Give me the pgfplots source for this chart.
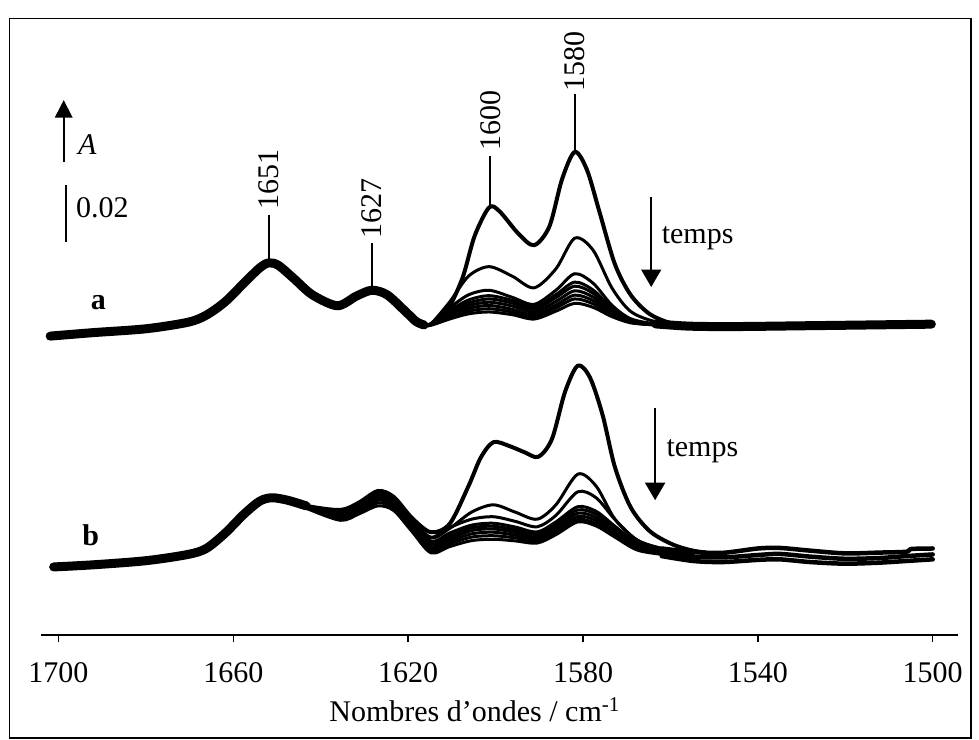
\documentclass[border=0pt]{standalone}
\usepackage{fontspec}
\setmainfont{Liberation Serif}
\usepackage{pgfplots}
\pgfplotsset{compat=1.18}
\usetikzlibrary{arrows.meta}

\newcommand{\fs}{\fontsize{12bp}{14bp}\selectfont}

\begin{document}
\fs
\begin{tikzpicture}
\path[use as bounding box] (-16.4bp,-42.1bp) rectangle (375.2bp,253.9bp);
\draw[line width=0.6bp] (-12.6bp,-41.3bp) rectangle (372bp,246.4bp);
\begin{axis}[
  at={(0,0)}, anchor=south west, scale only axis,
  width=367bp, height=246.4bp,
  xmin=1494.1, xmax=1704, ymin=0, ymax=0.2271,
  x dir=reverse,
  axis x line=bottom, axis y line=none,
  x axis line style={-, line width=0.8bp},
  xtick={1500,1540,1580,1620,1660,1700},
  tick align=outside, major tick length=3bp,
  xtick style={line width=0.6bp, black},
  tick label style={font=\fs},
  xticklabel style={anchor=base, yshift=-16.2bp},
  /pgf/number format/assume math mode=true,
  /pgf/number format/set thousands separator={},
  xlabel={Nombres d’ondes / cm\textsuperscript{-1}},
  xlabel style={font=\fs, at={(axis description cs:0.473,0)}, anchor=center, yshift=-30bp},
  clip=false,
  every axis plot/.append style={black, smooth, line join=round, line cap=round},
]
% ---- a: common left part
\addplot[line width=3.6bp] coordinates {
 (1701.9,0.1101) (1691.9,0.1114) (1680,0.1128) (1670.4,0.1152) (1666.2,0.1178)
 (1661.9,0.1227) (1657.6,0.1296) (1654,0.1352) (1651.9,0.1371) (1649.7,0.1362)
 (1646.2,0.1314) (1641.9,0.1253) (1636.2,0.1213) (1631.9,0.1248) (1628.3,0.1270)
 (1624.8,0.1253) (1620.5,0.1190) (1618.2,0.1155) (1616.4,0.1142)};
% a: first spectrum
\addplot[line width=1.6bp] coordinates {
 (1618.2,0.1155) (1616.4,0.1142) (1614.8,0.1145) (1611.2,0.1192) (1607.6,0.1314)
 (1604.8,0.1470) (1601.5,0.1575) (1599.1,0.1561) (1594.8,0.1479) (1591.2,0.1436)
 (1587.7,0.1505) (1584.8,0.1679) (1581.9,0.1780) (1579.1,0.1714) (1576.2,0.1557)
 (1572.7,0.1366) (1569.1,0.1253) (1564.8,0.1183) (1559.8,0.1148) (1554.8,0.1136)};
\addplot[line width=1.2bp] coordinates {
 (1618.2,0.1155) (1616.4,0.1142) (1614.8,0.1146) (1610.5,0.1227) (1606.2,0.1322)
 (1601.5,0.1357) (1596.2,0.1322) (1591.2,0.1279) (1586.2,0.1349) (1581.9,0.1462)
 (1577.7,0.1418) (1573.4,0.1279) (1569.1,0.1192) (1563.4,0.1154) (1556.2,0.1140)};
\addplot[line width=1.2bp] coordinates {
 (1618.2,0.1155) (1616.4,0.1142) (1614.8,0.1147) (1610.5,0.1205) (1606.2,0.1253)
 (1601.5,0.1270) (1596.2,0.1244) (1591.2,0.1218) (1586.2,0.1270) (1581.9,0.1331)
 (1577.7,0.1296) (1573.4,0.1215) (1569.1,0.1165) (1563.4,0.1146) (1556.2,0.1137)};
\addplot[line width=1.2bp] coordinates {
 (1618.2,0.1155) (1616.4,0.1142) (1614.8,0.1146) (1610.5,0.1195) (1606.2,0.1234)
 (1601.5,0.1250) (1596.2,0.1233) (1591.2,0.1208) (1586.2,0.1254) (1581.9,0.1300)
 (1577.7,0.1271) (1573.4,0.1204) (1569.1,0.1159) (1563.4,0.1145) (1556.2,0.1137)};
\addplot[line width=1.2bp] coordinates {
 (1618.2,0.1155) (1616.4,0.1142) (1614.8,0.1145) (1610.5,0.1189) (1606.2,0.1223)
 (1601.5,0.1238) (1596.2,0.1223) (1591.2,0.1200) (1586.2,0.1243) (1581.9,0.1285)
 (1577.7,0.1259) (1573.4,0.1198) (1569.1,0.1157) (1563.4,0.1144) (1556.2,0.1136)};
\addplot[line width=1.2bp] coordinates {
 (1618.2,0.1155) (1616.4,0.1142) (1614.8,0.1144) (1610.5,0.1183) (1606.2,0.1213)
 (1601.5,0.1226) (1596.2,0.1212) (1591.2,0.1190) (1586.2,0.1229) (1581.9,0.1268)
 (1577.7,0.1245) (1573.4,0.1191) (1569.1,0.1155) (1563.4,0.1144) (1556.2,0.1137)};
\addplot[line width=1.2bp] coordinates {
 (1618.2,0.1155) (1616.4,0.1142) (1614.8,0.1143) (1610.5,0.1177) (1606.2,0.1203)
 (1601.5,0.1214) (1596.2,0.1200) (1591.2,0.1180) (1586.2,0.1216) (1581.9,0.1252)
 (1577.7,0.1232) (1573.4,0.1185) (1569.1,0.1153) (1563.4,0.1143) (1556.2,0.1135)};
\addplot[line width=1.2bp] coordinates {
 (1618.2,0.1155) (1616.4,0.1142) (1614.8,0.1142) (1610.5,0.1170) (1606.2,0.1193)
 (1601.5,0.1202) (1596.2,0.1190) (1591.2,0.1172) (1586.2,0.1205) (1581.9,0.1238)
 (1577.7,0.1220) (1573.4,0.1179) (1569.1,0.1152) (1563.4,0.1142) (1556.2,0.1136)};
\addplot[line width=1.2bp] coordinates {
 (1618.2,0.1155) (1616.4,0.1142) (1614.8,0.1141) (1610.5,0.1164) (1606.2,0.1183)
 (1601.5,0.1190) (1596.2,0.1180) (1591.2,0.1164) (1586.2,0.1193) (1581.9,0.1222)
 (1577.7,0.1207) (1573.4,0.1173) (1569.1,0.1150) (1563.4,0.1142) (1556.2,0.1135)};
% a: common tail
\addplot[line width=3.6bp] coordinates {
 (1563.4,0.1146) (1556.2,0.1138) (1548,0.1136) (1540,0.1137) (1530,0.1139)
 (1520,0.1141) (1510,0.1143) (1500.3,0.1145)};

% ---- b: common left part
\addplot[line width=3.6bp] coordinates {
 (1701.1,0.0250) (1691.9,0.0258) (1680,0.0273) (1670.4,0.0296) (1666.2,0.0318)
 (1661.9,0.0374) (1657.6,0.0444) (1654,0.0492) (1651.2,0.0505) (1647.6,0.0496)
 (1643.3,0.0475)};
% b: first spectrum
\addplot[line width=1.6bp] coordinates {
 (1647.6,0.0496) (1643.3,0.0475) (1635.5,0.0460) (1631.2,0.0488) (1626.9,0.0530)
 (1623.3,0.0508) (1619.1,0.0430) (1614.8,0.0378) (1610.5,0.0409) (1606.2,0.0548)
 (1603.4,0.0653) (1600.5,0.0710) (1596.9,0.0696) (1593.4,0.0673) (1590.2,0.0656)
 (1587.1,0.0722) (1584.1,0.0896) (1581.2,0.0992) (1578.4,0.0948) (1575.5,0.0809)
 (1572.7,0.0618) (1569.1,0.0470) (1564.8,0.0383) (1559.8,0.0335) (1554.8,0.0310)
 (1548,0.0295)};
\addplot[line width=1.2bp] coordinates {
 (1647.6,0.0496) (1643.3,0.0475) (1635.5,0.0455) (1631.2,0.0482) (1626.9,0.0522)
 (1623.3,0.0500) (1619.1,0.0420) (1614.8,0.0357) (1610.5,0.0392) (1605.5,0.0452)
 (1600.5,0.0479) (1595.5,0.0452) (1590.5,0.0426) (1586.2,0.0479) (1581.2,0.0592)
 (1577,0.0548) (1572.7,0.0426) (1567.7,0.0350) (1562,0.0318) (1554.8,0.0300)};
\addplot[line width=1.2bp] coordinates {
 (1647.6,0.0496) (1643.3,0.0475) (1635.5,0.0452) (1631.2,0.0476) (1626.9,0.0515)
 (1623.3,0.0495) (1619.1,0.0420) (1614.8,0.0360) (1610.5,0.0395) (1605.5,0.0426)
 (1600.5,0.0435) (1595.5,0.0418) (1590.5,0.0398) (1586.2,0.0440) (1581.2,0.0527)
 (1577,0.0505) (1572.7,0.0425) (1567.7,0.0350) (1562,0.0318) (1554.8,0.0298)};
\addplot[line width=1.2bp] coordinates {
 (1647.6,0.0496) (1643.3,0.0475) (1635.5,0.0458) (1631.2,0.0485) (1626.9,0.0525)
 (1623.3,0.0505) (1619.1,0.0425) (1614.8,0.0345) (1610.5,0.0375) (1605.5,0.0404)
 (1600.5,0.0411) (1595.5,0.0397) (1590.5,0.0379) (1586.2,0.0416) (1581.2,0.0472)
 (1577,0.0455) (1572.7,0.0400) (1567.7,0.0340) (1562,0.0315) (1554.8,0.0298)};
\addplot[line width=1.2bp] coordinates {
 (1647.6,0.0496) (1643.3,0.0474) (1635.5,0.0450) (1631.2,0.0478) (1626.9,0.0515)
 (1623.3,0.0496) (1619.1,0.0414) (1614.8,0.0335) (1610.5,0.0364) (1605.5,0.0394)
 (1600.5,0.0400) (1595.5,0.0387) (1590.5,0.0370) (1586.2,0.0406) (1581.2,0.0460)
 (1577,0.0444) (1572.7,0.0392) (1567.7,0.0336) (1562,0.0312) (1554.8,0.0295)};
\addplot[line width=1.2bp] coordinates {
 (1647.6,0.0496) (1643.3,0.0472) (1635.5,0.0443) (1631.2,0.0470) (1626.9,0.0505)
 (1623.3,0.0487) (1619.1,0.0404) (1614.8,0.0325) (1610.5,0.0354) (1605.5,0.0384)
 (1600.5,0.0390) (1595.5,0.0377) (1590.5,0.0360) (1586.2,0.0395) (1581.2,0.0448)
 (1577,0.0432) (1572.7,0.0383) (1567.7,0.0330) (1562,0.0308) (1554.8,0.0292)};
\addplot[line width=1.2bp] coordinates {
 (1647.6,0.0496) (1643.3,0.0470) (1635.5,0.0437) (1631.2,0.0463) (1626.9,0.0496)
 (1623.3,0.0478) (1619.1,0.0396) (1614.8,0.0318) (1610.5,0.0345) (1605.5,0.0372)
 (1600.5,0.0378) (1595.5,0.0367) (1590.5,0.0352) (1586.2,0.0386) (1581.2,0.0436)
 (1577,0.0421) (1572.7,0.0375) (1567.7,0.0325) (1562,0.0305) (1554.8,0.0288)};
\addplot[line width=1.2bp] coordinates {
 (1647.6,0.0496) (1643.3,0.0468) (1635.5,0.0430) (1631.2,0.0455) (1626.9,0.0486)
 (1623.3,0.0468) (1619.1,0.0388) (1614.8,0.0310) (1610.5,0.0335) (1605.5,0.0360)
 (1600.5,0.0365) (1595.5,0.0357) (1590.5,0.0345) (1586.2,0.0377) (1581.2,0.0425)
 (1577,0.0410) (1572.7,0.0367) (1567.7,0.0318) (1562,0.0300) (1554.8,0.0284)};
\addplot[line width=1.2bp] coordinates {
 (1647.6,0.0496) (1643.3,0.0466) (1635.5,0.0422) (1631.2,0.0446) (1626.9,0.0475)
 (1623.3,0.0458) (1619.1,0.0380) (1614.8,0.0302) (1610.5,0.0325) (1605.5,0.0347)
 (1600.5,0.0352) (1595.5,0.0346) (1590.5,0.0338) (1586.2,0.0369) (1581.2,0.0416)
 (1577,0.0401) (1572.7,0.0360) (1567.7,0.0313) (1562,0.0296) (1554.8,0.0280)};
% b: tail
\addplot[line width=1.8bp] coordinates {
 (1562,0.0318) (1554.8,0.0305) (1548,0.0302) (1540,0.0318) (1535,0.0320)
 (1528,0.0310) (1520,0.0300) (1512,0.0303) (1506,0.0306) (1505,0.0316) (1500,0.0318)};
\addplot[line width=1.8bp] coordinates {
 (1562,0.0300) (1554.8,0.0288) (1548,0.0285) (1540,0.0294) (1535,0.0298)
 (1528,0.0288) (1520,0.0280) (1512,0.0283) (1506,0.0290) (1500,0.0296)};
\addplot[line width=1.8bp] coordinates {
 (1562,0.0290) (1554.8,0.0272) (1548,0.0268) (1540,0.0276) (1535,0.0278)
 (1528,0.0268) (1520,0.0262) (1512,0.0266) (1506,0.0272) (1500,0.0278)};

% ---- annotations
\draw[line width=0.7bp, -{Triangle[length=7bp,width=7bp]}]
  (axis cs:1698.8,0.1743) -- (axis cs:1698.8,0.1971);
\node[anchor=west, inner sep=0pt, font=\fs] at (axis cs:1695.6,0.1806) {\textit{A}};
\draw[line width=0.7bp] (axis cs:1698.2,0.1658) -- (axis cs:1698.2,0.1448);
\node[anchor=west, inner sep=0pt, font=\fs] at (axis cs:1696.1,0.1573) {0.02};
\node[font=\fs\bfseries, inner sep=0pt] at (axis cs:1690.9,0.1223) {a};
\node[font=\fs\bfseries, inner sep=0pt] at (axis cs:1692.6,0.0367) {b};

\draw[line width=0.7bp] (axis cs:1651.9,0.1383) -- (axis cs:1651.9,0.1549);
\node[rotate=90, anchor=west, inner sep=0pt, font=\fs] at (axis cs:1651.9,0.1566) {1651};
\draw[line width=0.7bp] (axis cs:1628.3,0.1275) -- (axis cs:1628.3,0.1444);
\node[rotate=90, anchor=west, inner sep=0pt, font=\fs] at (axis cs:1628.3,0.1460) {1627};
\draw[line width=0.7bp] (axis cs:1601.2,0.1583) -- (axis cs:1601.2,0.1766);
\node[rotate=90, anchor=west, inner sep=0pt, font=\fs] at (axis cs:1601.2,0.1784) {1600};
\draw[line width=0.7bp] (axis cs:1581.9,0.1784) -- (axis cs:1581.9,0.1992);
\node[rotate=90, anchor=west, inner sep=0pt, font=\fs] at (axis cs:1581.9,0.2001) {1580};

\draw[line width=0.7bp, -{Triangle[length=7bp,width=8bp]}]
  (axis cs:1564.4,0.1615) -- (axis cs:1564.4,0.1282);
\node[anchor=west, inner sep=0pt, font=\fs] at (axis cs:1562.1,0.1462) {temps};
\draw[line width=0.7bp, -{Triangle[length=7bp,width=8bp]}]
  (axis cs:1563.5,0.0835) -- (axis cs:1563.5,0.0496);
\node[anchor=west, inner sep=0pt, font=\fs] at (axis cs:1561.0,0.0675) {temps};
\end{axis}
\end{tikzpicture}
\end{document}
